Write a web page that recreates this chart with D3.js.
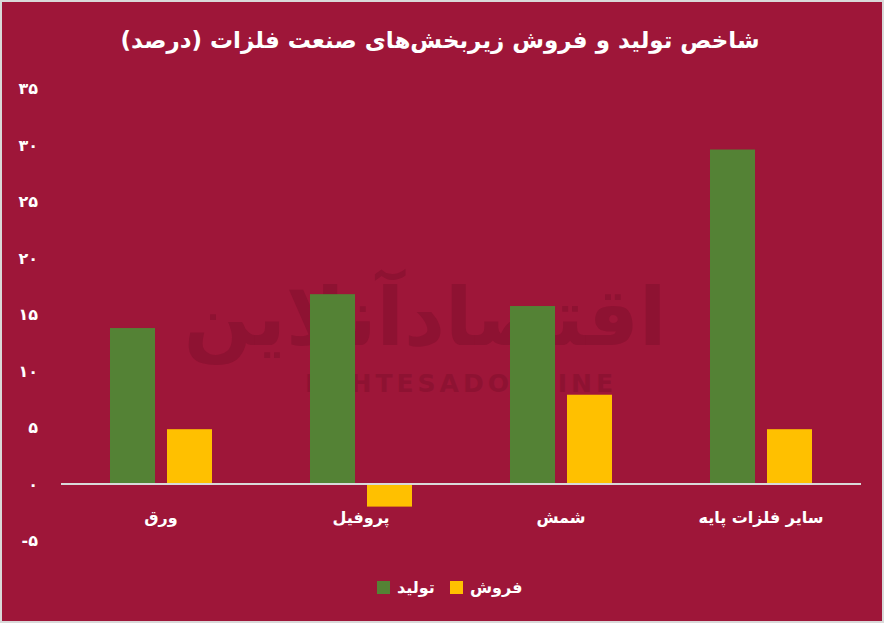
<!DOCTYPE html>
<html>
<head>
<meta charset="utf-8">
<script src="https://cdn.jsdelivr.net/npm/d3@7"></script>
<style>
  body { margin: 0; background: #d9d9d9; }
  svg { display: block; }
  text { font-family: "DejaVu Sans", sans-serif; font-weight: bold; fill: #fff; }
</style>
</head>
<body>
<script>
var categories = ["ورق", "پروفیل", "شمش", "سایر فلزات پایه"];
var seriesNames = ["تولید", "فروش"];
var production = [13.8, 16.8, 15.75, 29.6];
var sales = [4.85, -2.0, 7.9, 4.85];
var yTicks = [-5, 0, 5, 10, 15, 20, 25, 30, 35];
var colors = ["#548235", "#ffc000"];

var width = 884, height = 623;
var faDigits = "۰۱۲۳۴۵۶۷۸۹";
function toFa(n) {
  return String(n).replace(/[0-9]/g, d => faDigits[+d]);
}

var svg = d3.select("body").append("svg")
  .attr("width", width)
  .attr("height", height);

// background card
svg.append("rect")
  .attr("x", 2).attr("y", 2)
  .attr("width", width - 4).attr("height", height - 4)
  .attr("fill", "#9e1639");

// watermark (logo of the source)
var wm = svg.append("g");
wm.append("text")
  .attr("x", 425).attr("y", 345)
  .attr("text-anchor", "middle")
  .style("font-size", "80px")
  .style("fill", "#8e1232")
  .text("اقتصادآنلاین");
wm.append("text")
  .attr("x", 461).attr("y", 392)
  .attr("text-anchor", "middle")
  .style("font-size", "25px")
  .style("letter-spacing", "4px")
  .style("fill", "#8e1232")
  .text("EGHTESADONLINE");

var data = categories.map((c, i) => ({ cat: c, values: [production[i], sales[i]] }));

var x0 = d3.scaleBand()
  .domain(categories)
  .range([61, 861])
  .paddingInner(0.49)
  .paddingOuter(0.245);

var x1 = d3.scaleBand()
  .domain(seriesNames)
  .range([0, x0.bandwidth()])
  .paddingInner(0.2105);

var y = d3.scaleLinear()
  .domain([-5, 35])
  .range([540.5, 88.5]);

// y axis labels
var yAxis = d3.axisLeft(y)
  .tickValues(yTicks)
  .tickSize(0)
  .tickPadding(0)
  .tickFormat(toFa);

svg.append("g")
  .attr("transform", "translate(38,0)")
  .call(yAxis)
  .call(g => g.select(".domain").remove())
  .selectAll("text")
  .style("font-size", "16px")
  .style("font-family", "DejaVu Sans, sans-serif")
  .attr("fill", "#fff");

// bars
var groups = svg.selectAll("g.grp")
  .data(data)
  .enter().append("g")
  .attr("class", "grp")
  .attr("transform", d => "translate(" + x0(d.cat) + ",0)");

groups.selectAll("rect")
  .data(d => d.values.map((v, i) => ({ key: seriesNames[i], v: v, i: i })))
  .enter().append("rect")
  .attr("x", d => x1(d.key))
  .attr("width", x1.bandwidth())
  .attr("y", d => y(Math.max(0, d.v)))
  .attr("height", d => Math.abs(y(d.v) - y(0)))
  .attr("fill", d => colors[d.i]);

// zero line
svg.append("line")
  .attr("x1", 61).attr("x2", 861)
  .attr("y1", y(0)).attr("y2", y(0))
  .attr("stroke", "#d9d9d9")
  .attr("stroke-width", 2);

// category labels
var xAxis = d3.axisBottom(x0).tickSize(0).tickPadding(0);
svg.append("g")
  .attr("transform", "translate(0,523)")
  .call(xAxis)
  .call(g => g.select(".domain").remove())
  .selectAll("text")
  .style("font-size", "16px")
  .style("font-family", "DejaVu Sans, sans-serif")
  .attr("fill", "#fff")
  .attr("dy", 0);

// title
svg.append("text")
  .attr("x", 440).attr("y", 48)
  .attr("text-anchor", "middle")
  .style("font-size", "23px")
  .text("شاخص تولید و فروش زیربخش‌های صنعت فلزات (درصد)");

// legend
var legendX = [377, 450];
var legend = svg.selectAll("g.leg")
  .data(seriesNames)
  .enter().append("g")
  .attr("class", "leg")
  .attr("transform", (d, i) => "translate(" + legendX[i] + ",581)");
legend.append("rect")
  .attr("width", 13).attr("height", 13)
  .attr("fill", (d, i) => colors[i]);
legend.append("text")
  .attr("x", 20).attr("y", 12)
  .style("font-size", "16px")
  .text(d => d);
</script>
</body>
</html>
